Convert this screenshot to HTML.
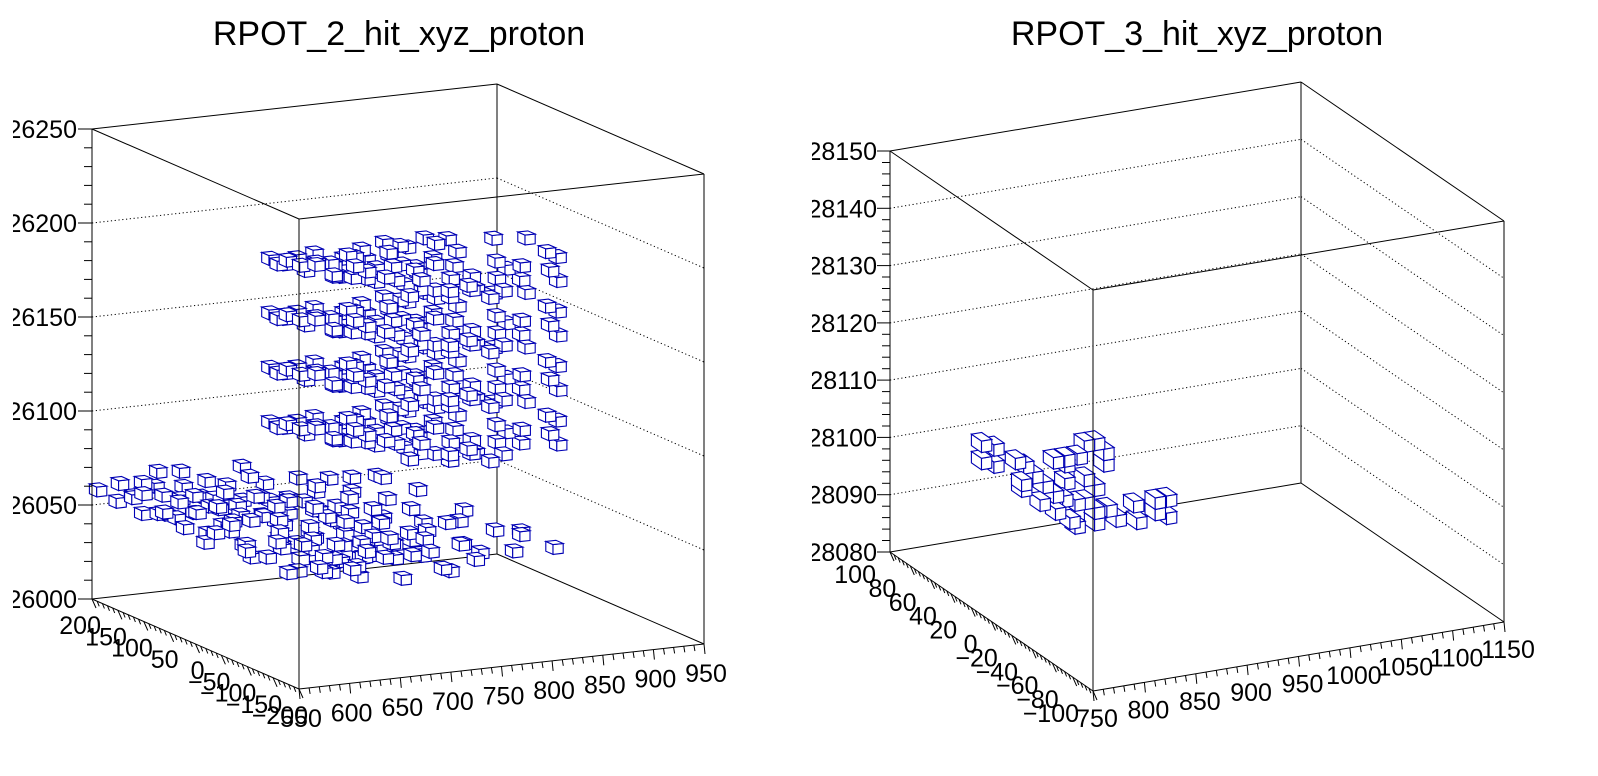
<!DOCTYPE html>
<html><head><meta charset="utf-8"><style>
html,body{margin:0;padding:0;background:#fff;}
svg{display:block;font-family:"Liberation Sans",Arial,sans-serif;}
</style></head><body>
<svg id="canvas" width="1598" height="776" viewBox="0 0 1598 776">
<rect x="0" y="0" width="1598" height="776" fill="#fff"/>
<defs>
<clipPath id="clipL"><rect x="13" y="0" width="786" height="776"/></clipPath>
<clipPath id="clipR"><rect x="812" y="0" width="786" height="776"/></clipPath>
</defs>
<g id="panelL" clip-path="url(#clipL)"></g>
<g id="panelR" clip-path="url(#clipR)"></g>
<text x="399" y="45" font-size="34" text-anchor="middle">RPOT_2_hit_xyz_proton</text>
<text x="1197" y="45" font-size="34" text-anchor="middle">RPOT_3_hit_xyz_proton</text>
</svg>
<script>
// ===== RPOT_2 data =====
const L_xTicks = [550,600,650,700,750,800,850,900,950];
const L_yTicks = [200,150,100,50,0,-50,-100,-150,-200];
const L_zTicks = [26000,26050,26100,26150,26200,26250];
const L_layerZ = [26109,26138,26167,26196];
// upper layers hit pattern: [x, y, dz]
const L_layerHits = [
[555,-135,25],[558,-145,23],[562,-155,26],[566,-140,22],[570,-165,24],[574,-150,26],[578,-135,23],[580,-175,25],
[585,-145,18],[588,-160,24],[592,-185,20],[596,-140,26],[600,-170,17],[604,-155,22],[608,-195,25],[612,-145,19],[616,-175,16],[619,-160,26],
[622,-140,12],[625,-185,20],[628,-155,24],[632,-170,14],[636,-200,18],[640,-145,26],[644,-165,11],[648,-190,22],[652,-150,16],[656,-180,13],[659,-160,25],[630,-130,20],[650,-135,19],
[662,-195,6],[665,-150,22],[668,-175,9],[672,-160,18],[676,-190,13],[680,-140,25],[684,-170,5],[688,-155,15],[692,-185,20],[696,-145,10],[699,-200,7],[670,-130,26],[690,-135,23],[675,-180,17],
[702,-165,3],[705,-190,12],[708,-150,18],[712,-175,0],[716,-140,24],[720,-195,8],[724,-160,14],[728,-185,4],[732,-150,20],[736,-170,9],[739,-200,1],[710,-130,26],[730,-135,25],
[745,-200,20],[748,-195,10],[752,-200,4],[770,-200,16],[772,-195,8],[795,-200,22],[798,-200,12],[808,-195,18],[806,-200,6],[790,-170,26],[760,-165,27],[740,-170,2],[760,-190,14]
];
// lowest layer hits: [x, y, z]
const L_baseHits = [
[555,198,26058],[570,185,26062],[560,170,26055],[580,160,26065],[600,175,26060],[575,150,26050],[620,165,26068],
[555,130,26062],[570,110,26055],[590,140,26060],[610,120,26052],[630,135,26066],[650,105,26058],[600,100,26064],[670,145,26070],
[560,80,26060],[580,95,26054],[600,70,26062],[620,90,26057],[640,60,26066],[660,85,26052],[680,75,26061],[700,95,26068],[720,60,26056],[590,55,26050],
[555,30,26058],[575,45,26063],[595,20,26055],[615,40,26060],[635,10,26067],[655,35,26053],[675,15,26062],[695,45,26057],[715,25,26065],[735,5,26054],[760,40,26060],[780,20,26066],
[560,-20,26061],[580,-40,26056],[600,-10,26064],[620,-30,26052],[640,-45,26060],[660,-15,26068],[680,-35,26055],[700,-5,26062],[720,-25,26058],[740,-45,26066],[770,-10,26053],[800,-30,26060],
[565,-70,26057],[585,-90,26063],[605,-60,26055],[625,-80,26061],[645,-95,26050],[665,-65,26066],[685,-85,26058],[705,-55,26062],[725,-75,26054],[750,-95,26064],[780,-60,26059],[805,-80,26055],
[560,-120,26060],[580,-140,26054],[600,-110,26063],[620,-130,26057],[640,-145,26066],[660,-105,26052],[680,-125,26061],[700,-140,26056],[720,-115,26064],[745,-135,26058],[770,-120,26050],[800,-140,26062],
[555,-170,26058],[575,-190,26062],[595,-160,26055],[615,-185,26060],[635,-165,26064],[655,-195,26052],[675,-175,26061],[695,-155,26057],[715,-190,26066],[740,-170,26054],[765,-195,26060],[790,-160,26063],[810,-185,26058],
[700,35,26075],[730,50,26072],[680,20,26074],[740,10,26076],[760,60,26070],[610,60,26070],[650,0,26048],[690,-60,26046],[630,-100,26047],[720,-160,26048],
[560,120,26065],[565,150,26060],[585,125,26052],[595,160,26070],[605,135,26058],[615,150,26062],[625,110,26060],[635,155,26055],[645,125,26064],[655,140,26050],[665,120,26068],[675,100,26057],[685,130,26062],
[570,70,26066],[590,80,26058],[610,65,26052],[630,75,26060],[650,70,26064],[670,55,26056],[690,65,26060],[710,80,26062],
[565,10,26052],[585,25,26068],[605,35,26058],[625,15,26062],[645,30,26056],[665,45,26064],[685,0,26058],[705,20,26052],[725,40,26066],
[570,-30,26066],[590,-15,26052],[610,-45,26058],[630,-5,26062],[650,-35,26055],[670,-20,26063],[690,-50,26060],[710,-30,26066],[730,-10,26058],
[575,-60,26052],[595,-75,26066],[615,-95,26058],[635,-55,26064],[655,-80,26056],[675,-100,26062],[695,-70,26052],[715,-90,26060],
[590,-125,26058],[610,-145,26052],[630,-115,26062],[650,-130,26056],[670,-140,26066],[690,-110,26058],[710,-130,26062],
[585,-180,26066],[605,-195,26060],[625,-170,26052],[645,-180,26062],[665,-160,26058],[685,-190,26064],[705,-175,26052]
];
// ===== RPOT_3 data =====
const R_xTicks = [750,800,850,900,950,1000,1050,1100,1150];
const R_yTicks = [100,80,60,40,20,0,-20,-40,-60,-80,-100];
const R_zTicks = [28080,28090,28100,28110,28120,28130,28140,28150];
const R_hitX = [770,770,782,782,803,811,809,809,820,830,827,840,842,851,856,861,840,851,851,863,870,880,889,889,870,880,870,880,892,901,880,918,921,939,950,939,950,849,861];
const R_hitY = [30,30,30,30,30,30,30,30,30,30,30,30,30,30,30,30,30,30,30,30,30,30,30,30,30,30,30,30,30,30,30,30,30,30,30,30,30,30,30];
const R_hitZ = [28107,28104,28106,28103,28103,28102,28099,28098,28100,28098,28095,28096,28093,28098,28091,28090,28102,28102,28101,28102,28104,28104,28102,28100,28098,28096,28094,28092,28092,28090,28090,28092,28089,28092,28092,28090,28089,28095,28094];

const NS = 'http://www.w3.org/2000/svg';
function mk(tag, attrs, parent){ const e=document.createElementNS(NS,tag); for(const k in attrs) e.setAttribute(k,attrs[k]); parent.appendChild(e); return e; }

function buildPanel(g, P, name){
  const proj=(x,y,z)=>{ const fx=(x-P.x0)/P.xr, fy=(y-P.y0)/P.yr, fz=(z-P.z0)/P.zr;
    return [P.B[0]+P.vx[0]*fx+P.vy[0]*fy, P.B[1]+P.vx[1]*fx+P.vy[1]*fy-P.zh*fz]; };
  const x0=P.x0,x1=P.x0+P.xr,y0=P.y0,y1=P.y0+P.yr,z0=P.z0,z1=P.z0+P.zr;
  const line=(a,b,nm,dash)=>{ const l=mk('line',{x1:a[0].toFixed(1),y1:a[1].toFixed(1),x2:b[0].toFixed(1),y2:b[1].toFixed(1),stroke:'#000','stroke-width':1},g);
    if(dash) l.setAttribute('stroke-dasharray','1.2,2.6');
    
     return l; };
  P.zTicks.forEach((zt,i)=>{ if(zt===z0||zt===z1) return;
    line(proj(x0,y1,zt),proj(x1,y1,zt),'z-gridline-back-left',true);
    line(proj(x1,y1,zt),proj(x1,y0,zt),'z-gridline-back-right',true); });
  line(proj(x0,y1,z0),proj(x1,y1,z0),'frame-back-bottom-left');
  line(proj(x1,y1,z0),proj(x1,y0,z0),'frame-back-bottom-right');
  line(proj(x1,y1,z0),proj(x1,y1,z1),'frame-back-vertical');
  line(proj(x0,y1,z1),proj(x1,y1,z1),'frame-back-top-left');
  line(proj(x1,y1,z1),proj(x1,y0,z1),'frame-back-top-right');
  const pts=P.hits.slice().sort((a,b)=>{ const da=(a[0]-x0)/P.xr+(a[1]-y0)/P.yr, db=(b[0]-x0)/P.xr+(b[1]-y0)/P.yr; return (db-da)||(a[2]-b[2]); });
  const fmt=arr=>arr.map(p=>p[0].toFixed(1)+','+p[1].toFixed(1)).join(' ');
  pts.forEach(h=>{ const [x,y,z]=h, hx=P.hx, hy=P.hy, hz=P.hz;
    const bg=mk('g',{},g);
    
    
    const st={fill:'#fff',stroke:'#0000b4','stroke-width':1.1,'stroke-linejoin':'miter'};
    const left=[proj(x-hx,y-hy,z-hz),proj(x-hx,y+hy,z-hz),proj(x-hx,y+hy,z+hz),proj(x-hx,y-hy,z+hz)];
    const front=[proj(x-hx,y-hy,z-hz),proj(x+hx,y-hy,z-hz),proj(x+hx,y-hy,z+hz),proj(x-hx,y-hy,z+hz)];
    const top=[proj(x-hx,y-hy,z+hz),proj(x+hx,y-hy,z+hz),proj(x+hx,y+hy,z+hz),proj(x-hx,y+hy,z+hz)];
    [left,front,top].forEach(f=>{ mk('polygon',Object.assign({points:fmt(f)},st),bg); });
  });
  line(proj(x0,y1,z0),proj(x0,y0,z0),'y-axis-line');
  line(proj(x0,y0,z0),proj(x1,y0,z0),'x-axis-line');
  line(proj(x0,y1,z1),proj(x0,y0,z1),'frame-top-front-left');
  line(proj(x0,y0,z1),proj(x1,y0,z1),'frame-top-front-right');
  line(proj(x0,y0,z0),proj(x0,y0,z1),'frame-front-vertical');
  line(proj(x1,y0,z0),proj(x1,y0,z1),'frame-right-vertical');
  line(proj(x0,y1,z0),proj(x0,y1,z1),'z-axis-line');
  for(let z=z0; z<=z1+1e-6; z+=P.zMinor){ const p=proj(x0,y1,z); const major=P.zTicks.some(t=>Math.abs(t-z)<1e-6);
    line([p[0]-(major?P.zMaj:8),p[1]],p,major?'z-major-tick':'z-minor-tick'); }
  P.zTicks.forEach(zt=>{ const p=proj(x0,y1,zt);
    const t=mk('text',{x:(p[0]-P.zLabOff).toFixed(1),y:(p[1]+9).toFixed(1),'font-size':25,'text-anchor':'end'},g); t.textContent=zt;
    
     });
  for(let y=y0; y<=y1+1e-6; y+=P.yMinor){ const p=proj(x0,y,z0); const major=P.yTicks.some(t=>Math.abs(t-y)<1e-6);
    line(p,[p[0]+(major?4:2),p[1]+(major?9:5)],major?'y-major-tick':'y-minor-tick'); }
  P.yTicks.forEach(yt=>{ const p=proj(x0,yt,z0);
    const t=mk('text',{x:(p[0]+P.yLab[0]).toFixed(1),y:(p[1]+P.yLab[1]+9).toFixed(1),'font-size':25,'text-anchor':'end'},g);
    t.textContent=String(yt).replace('-','\u2212');
    
     });
  for(let x=x0; x<=x1+1e-6; x+=P.xMinor){ const p=proj(x,y0,z0); const major=P.xTicks.some(t=>Math.abs(t-x)<1e-6);
    line(p,[p[0]+1,p[1]+(major?10:6)],major?'x-major-tick':'x-minor-tick'); }
  P.xTicks.forEach(xt=>{ const p=proj(xt,y0,z0);
    const t=mk('text',{x:(p[0]+P.xLab[0]).toFixed(1),y:(p[1]+P.xLab[1]+9).toFixed(1),'font-size':25,'text-anchor':'middle'},g);
    t.textContent=xt;
    
     });
}

const L_hits=[];
L_layerZ.forEach(zb=>L_layerHits.forEach(h=>L_hits.push([h[0],h[1],zb+h[2]])));
L_baseHits.forEach(h=>L_hits.push(h));
buildPanel(document.getElementById('panelL'),{
  B:[299,689],vx:[405,-45],vy:[-207,-90],zh:470,x0:550,xr:400,y0:-200,yr:400,z0:26000,zr:250,
  xTicks:L_xTicks,yTicks:L_yTicks,zTicks:L_zTicks,xMinor:10,yMinor:10,zMinor:10,
  hits:L_hits,hx:5,hy:7,hz:2.6,zMaj:14,zLabOff:15,yLab:[9,26],xLab:[2,29]
},'rpot2');

const R_hits=R_hitX.map((x,i)=>[x,R_hitY[i],R_hitZ[i]]);
buildPanel(document.getElementById('panelR'),{
  B:[1093,691],vx:[411,-69],vy:[-203,-139],zh:401,x0:750,xr:400,y0:-100,yr:200,z0:28080,zr:70,
  xTicks:R_xTicks,yTicks:R_yTicks,zTicks:R_zTicks,xMinor:10,yMinor:4,zMinor:2,
  hits:R_hits,hx:5,hy:5,hz:1,zMaj:13,zLabOff:13,yLab:[-14,22],xLab:[4,27]
},'rpot3');
</script>
</body></html>
